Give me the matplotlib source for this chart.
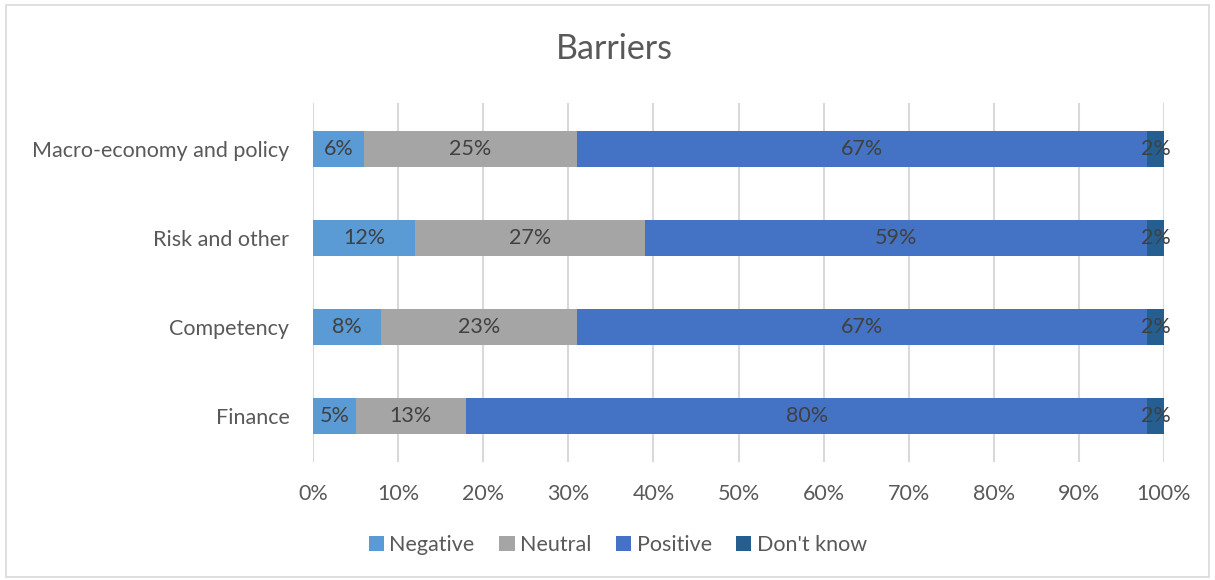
import matplotlib.pyplot as plt
from matplotlib.patches import Rectangle

plt.rcParams['font.family'] = ['Lato', 'DejaVu Sans']

# Survey answers per barrier (percent of respondents)
categories = ['Finance', 'Competency', 'Risk and other', 'Macro-economy and policy']
series = ['Negative', 'Neutral', 'Positive', "Don't know"]
negative = [5, 8, 12, 6]
neutral = [13, 23, 27, 25]
positive = [80, 67, 59, 67]
dont_know = [2, 2, 2, 2]
colors = ['#5B9BD5', '#A5A5A5', '#4472C4', '#255E91']
xticks = [0, 10, 20, 30, 40, 50, 60, 70, 80, 90, 100]

fig = plt.figure(figsize=(12.15, 5.8), dpi=100)
ax = fig.add_axes([313 / 1215, 1 - 462 / 580, (1164 - 313) / 1215, (462 - 103) / 580])

# light frame round the whole chart area
fig.patches.append(Rectangle((6 / 1215, 3 / 580), 1203 / 1215, 572 / 580,
                             transform=fig.transFigure, fill=False,
                             edgecolor='#D9D9D9', linewidth=1.2))

ypos = list(range(len(categories)))
left = [0] * len(categories)
for name, vals, col in zip(series, [negative, neutral, positive, dont_know], colors):
    bars = ax.barh(ypos, vals, left=left, height=0.40, color=col, label=name, zorder=3)
    for b, v in zip(bars, vals):
        ax.text(b.get_x() + b.get_width() / 2, b.get_y() + b.get_height() / 2,
                f'{v}%', ha='center', va='center', fontsize=15.5, color='#404040', zorder=4)
    left = [l + v for l, v in zip(left, vals)]

ax.set_xlim(0, 100)
ax.set_ylim(-0.52, 3.52)
ax.set_xticks(xticks)
ax.set_xticklabels([f'{t}%' for t in xticks])
ax.set_yticks(ypos)
ax.set_yticklabels(categories)
ax.tick_params(axis='both', length=0, labelsize=15.5, colors='#595959')
ax.tick_params(axis='x', pad=16)
ax.tick_params(axis='y', pad=17)
ax.grid(axis='x', color='#D9D9D9', linewidth=1.5, zorder=0)
for s in ax.spines.values():
    s.set_visible(False)

fig.text(614 / 1215, 1 - 49 / 580, 'Barriers', ha='center', va='center',
         fontsize=24.5, color='#595959')

fig.legend(loc='center', bbox_to_anchor=(618 / 1215, 1 - 545 / 580), ncol=4,
           frameon=False, fontsize=15.5, labelcolor='#595959', handlelength=0.7,
           handleheight=0.7, handletextpad=0.25, columnspacing=1.15)

fig.savefig('out.png', dpi=100)
